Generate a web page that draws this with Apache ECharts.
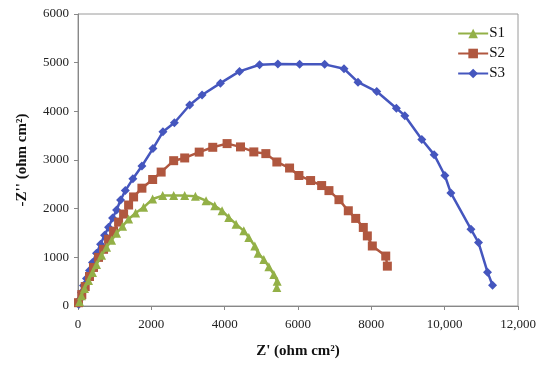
<!DOCTYPE html>
<html>
<head>
<meta charset="utf-8">
<script src="https://cdn.jsdelivr.net/npm/echarts@6/dist/echarts.min.js"></script>
<style>html,body{margin:0;padding:0;background:#fff}#c{width:550px;height:367px}</style>
</head>
<body>
<div id="c"></div>
<script>
var seriesNames = ['S1', 'S2', 'S3'];
var xTicks = [0, 2000, 4000, 6000, 8000, 10000, 12000];
var yTicks = [0, 1000, 2000, 3000, 4000, 5000, 6000];

var s1X = [41,96,178,287,396,505,642,779,915,1052,1216,1380,1571,1790,2036,2309,2609,2910,3202,3492,3730,3929,4112,4311,4522,4658,4822,4913,5068,5205,5341,5432,5423];
var s1Y = [89,213,358,523,689,855,1041,1206,1351,1496,1641,1786,1910,2028,2199,2268,2268,2268,2255,2164,2061,1957,1821,1682,1544,1407,1233,1082,958,807,648,509,379];

var s2X = [14,104,197,314,423,560,697,833,970,1107,1243,1380,1516,1743,2036,2268,2609,2910,3306,3675,4066,4432,4795,5123,5423,5770,6025,6344,6645,6844,7117,7372,7574,7781,7891,8027,8393,8437];
var s2Y = [68,234,399,606,792,999,1165,1372,1537,1724,1889,2075,2241,2421,2599,2752,2986,3042,3162,3261,3337,3269,3166,3131,2959,2835,2682,2578,2475,2371,2185,1957,1800,1614,1440,1233,1026,819];

var s3X = [20,41,96,150,232,314,396,505,615,724,833,943,1052,1161,1290,1497,1743,2044,2317,2628,3046,3383,3885,4404,4951,5451,6044,6727,7254,7637,8148,8683,8913,9377,9713,10005,10169,10716,10923,11169,11306];
var s3Y = [30,130,275,420,565,730,896,1082,1268,1455,1620,1806,1972,2179,2371,2613,2876,3234,3580,3766,4130,4337,4579,4821,4958,4975,4965,4965,4875,4600,4407,4064,3911,3421,3110,2682,2324,1579,1304,695,426];

function zip(a, b) { return a.map(function (v, i) { return [v, b[i]]; }); }

var colors = ['#93B047', '#B0573F', '#4556BE'];
var symbols = ['triangle', 'rect', 'diamond'];
var sizes = [9, 9, 9];
var data = [zip(s1X, s1Y), zip(s2X, s2Y), zip(s3X, s3Y)];

var serif = '"Liberation Serif", "Times New Roman", serif';

var chart = echarts.init(document.getElementById('c'), null, {renderer: 'canvas'});
chart.setOption({
  animation: false,
  backgroundColor: '#fff',
  grid: {left: 78, right: 32, top: 14, bottom: 61, show: true, borderColor: '#9a9a9a', borderWidth: 1},
  legend: {
    orient: 'vertical', right: 40, top: 21, itemGap: 5, itemWidth: 30, itemHeight: 12,
    textStyle: {fontFamily: serif, fontSize: 15, color: '#111', padding: [0,0,0,-4], lineHeight: 15},
    data: seriesNames
  },
  xAxis: {
    type: 'value', min: xTicks[0], max: xTicks[xTicks.length - 1], interval: 2000,
    name: "Z' (ohm cm²)", nameLocation: 'middle', nameGap: 38,
    nameTextStyle: {fontFamily: serif, fontSize: 15, fontWeight: 'bold', color: '#111'},
    axisLine: {lineStyle: {color: '#888'}},
    axisTick: {show: true, length: 4, lineStyle: {color: '#888'}},
    splitLine: {show: false},
    axisLabel: {fontFamily: serif, fontSize: 13, color: '#222', margin: 12,
      formatter: function (v) { return v >= 10000 ? v.toLocaleString('en-US') : String(v); }}
  },
  yAxis: {
    type: 'value', min: yTicks[0], max: yTicks[yTicks.length - 1], interval: 1000,
    name: "-Z'' (ohm cm²)", nameLocation: 'middle', nameGap: 48,
    nameTextStyle: {fontFamily: serif, fontSize: 15, fontWeight: 'bold', color: '#111'},
    axisLine: {show: true, lineStyle: {color: '#888'}},
    axisTick: {show: true, length: 4, lineStyle: {color: '#888'}},
    splitLine: {show: false},
    axisLabel: {fontFamily: serif, fontSize: 13, color: '#222', margin: 9,
      formatter: function (v) { return String(v); }}
  },
  series: seriesNames.map(function (n, i) {
    return {
      name: n, type: 'line', data: data[i],
      symbol: symbols[i], symbolSize: sizes[i], showSymbol: true,
      lineStyle: {width: 2.5, color: colors[i]},
      itemStyle: {color: colors[i]},
      z: 2 + (2 - i)
    };
  })
});
</script>
</body>
</html>
